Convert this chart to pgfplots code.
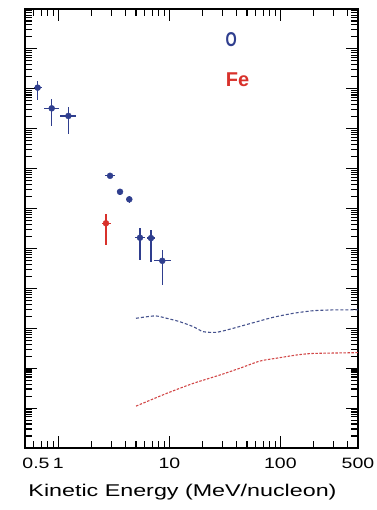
\documentclass[border=0pt]{standalone}
\usepackage{pgfplots}
\pgfplotsset{compat=1.18}
\usepackage{pgfplotstable}
\usepackage{fontspec}
\setmainfont{Liberation Sans}
\usepackage{graphicx}
\definecolor{oblue}{HTML}{2F3E8E}
\definecolor{fered}{HTML}{D8312B}
\definecolor{lblue}{HTML}{46538E}
\definecolor{lred}{HTML}{D24848}
\pgfplotstableread{
x y exp exm eyp eym
0.65 1.07e9 0.057 0.043 0.53e9 0.545e9
0.87 3.24e8 0.15 0.124 2.26e8 2.07e8
1.23 2.09e8 0.21 0.20 1.38e8 1.35e8
2.92 6.61e6 0.32 0.29 1.0e6 0.9e6
3.59 2.63e6 0.25 0.22 0.5e6 0.45e6
4.35 1.70e6 0.28 0.25 0.4e6 0.35e6
5.43 1.86e5 0.6 0.53 1.35e5 1.35e5
6.82 1.82e5 0.6 0.55 1.08e5 1.35e5
8.63 4.9e4 1.7 1.37 4.2e4 3.68e4
}\oxygen
\pgfplotstableread{
x y exp exm eyp eym
2.68 4.27e5 0.3 0.23 2.92e5 3.05e5
}\iron
\newcommand{\tl}[1]{\fontsize{15}{15}\selectfont\scalebox{1.3}[1]{#1}}
\begin{document}
\begin{tikzpicture}
\path[use as bounding box] (-25pt,-62pt) rectangle (351pt,448pt);
\begin{axis}[
  scale only axis, width=333pt, height=439pt,
  xmode=log, ymode=log,
  xmin=0.5, xmax=500, ymin=1, ymax=1e11,
  axis line style={line width=1.3pt},
  tick align=inside, xtick pos=both, ytick pos=both,
  xticklabel pos=lower,
  major tick length=12pt, minor tick length=7pt,
  every tick/.style={black, line width=1.1pt},
  xtick={1,10,100},
  xticklabels={\tl{1},\tl{10},\tl{100}},
  extra x ticks={0.5,500},
  extra x tick labels={\hspace*{22pt}\tl{0.5},\tl{500}},
  extra x tick style={major tick length=0pt},
  minor xtick={0.6,0.7,0.8,0.9,2,3,4,5,6,7,8,9,20,30,40,50,60,70,80,90,200,300,400},
  xticklabel style={anchor=center, yshift=-15pt},
  ytick={1e0,1e1,1e2,1e3,1e4,1e5,1e6,1e7,1e8,1e9,1e10,1e11},
  yticklabel=\empty,
  minor ytick={2e0,3e0,4e0,5e0,6e0,7e0,8e0,9e0,
    2e1,3e1,4e1,5e1,6e1,7e1,8e1,9e1,
    2e2,3e2,4e2,5e2,6e2,7e2,8e2,9e2,
    2e3,3e3,4e3,5e3,6e3,7e3,8e3,9e3,
    2e4,3e4,4e4,5e4,6e4,7e4,8e4,9e4,
    2e5,3e5,4e5,5e5,6e5,7e5,8e5,9e5,
    2e6,3e6,4e6,5e6,6e6,7e6,8e6,9e6,
    2e7,3e7,4e7,5e7,6e7,7e7,8e7,9e7,
    2e8,3e8,4e8,5e8,6e8,7e8,8e8,9e8,
    2e9,3e9,4e9,5e9,6e9,7e9,8e9,9e9,
    2e10,3e10,4e10,5e10,6e10,7e10,8e10,9e10},
  xlabel={\fontsize{17}{17}\selectfont\scalebox{1.37}[1]{Kinetic Energy (MeV/nucleon)}},
  xlabel style={at={(axis description cs:0.473,0)}, anchor=center, yshift=-44pt},
]
\addplot[only marks, mark=*, mark size=3pt, color=oblue,
  error bars/.cd, x dir=both, x explicit, y dir=both, y explicit,
  error mark=none, error bar style={line width=1.3pt, oblue}]
  table[x=x, y=y, x error plus=exp, x error minus=exm, y error plus=eyp, y error minus=eym]{\oxygen};
\addplot[only marks, mark=*, mark size=3pt, color=fered,
  error bars/.cd, x dir=both, x explicit, y dir=both, y explicit,
  error mark=none, error bar style={line width=1.3pt, fered}]
  table[x=x, y=y, x error plus=exp, x error minus=exm, y error plus=eyp, y error minus=eym]{\iron};
\addplot[color=lblue, line width=1.1pt, dash pattern=on 3pt off 2pt, smooth, tension=0.4] coordinates {
  (5.0,1778) (7.41,2042) (9.45,1778) (12.4,1462) (16.4,1096) (20.2,822) (26.7,794)
  (37.6,1000) (57,1380) (86.3,1884) (130.6,2371) (197.8,2754) (299,2884) (500,2884)};
\addplot[color=lred, line width=1.1pt, dash pattern=on 2.5pt off 1.5pt, smooth, tension=0.4] coordinates {
  (5.0,11.2) (9.45,23.4) (16.4,41.7) (28.6,67.6) (43.2,100) (65.5,151) (92.6,178)
  (140,214) (197.8,234) (500,245)};
\node[color=oblue, font=\bfseries\fontsize{20}{20}\selectfont] at (axis description cs:0.619,0.930) {\scalebox{0.72}[1]{O}};
\node[color=fered, font=\bfseries\fontsize{20}{20}\selectfont] at (axis description cs:0.638,0.838) {Fe};
\end{axis}
\end{tikzpicture}
\end{document}
